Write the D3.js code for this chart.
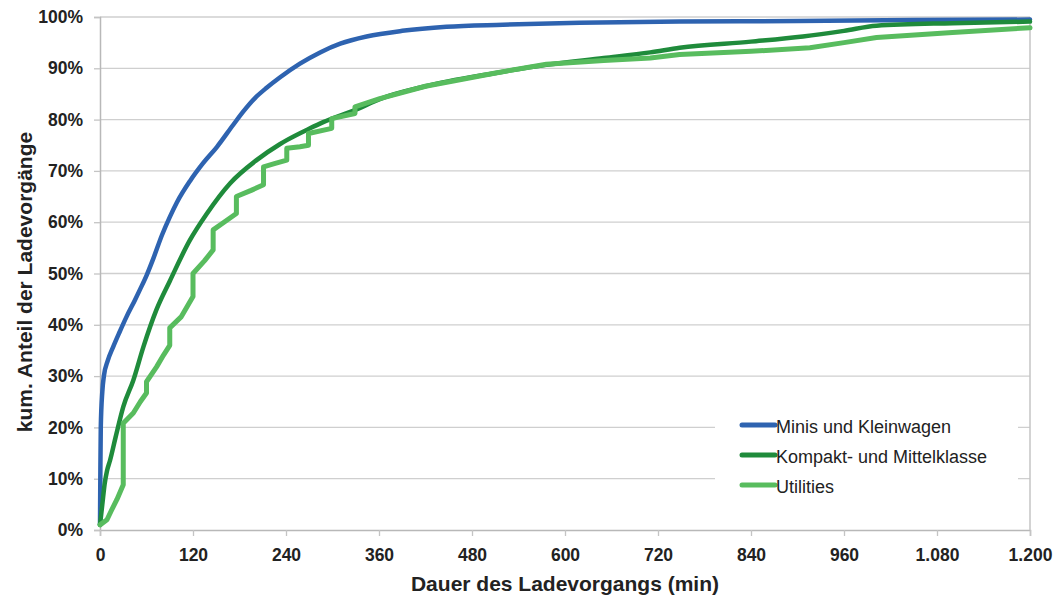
<!DOCTYPE html>
<html>
<head>
<meta charset="utf-8">
<script src="https://cdn.jsdelivr.net/npm/d3@7"></script>
<style>
  html, body { margin: 0; padding: 0; background: #fff; }
  svg { display: block; }
  text { font-family: "Liberation Sans", Arial, Helvetica, sans-serif; fill: #222; }
</style>
</head>
<body>
<svg id="chart" width="1054" height="599"></svg>
<script>
// ---- data (minutes, cumulative percent) ----
const seriesNames = ["Minis und Kleinwagen", "Kompakt- und Mittelklasse", "Utilities"];
const seriesColors = ["#2e63b0", "#1f8b3b", "#58bc5e"];

const minisX = [0, 0.4, 1, 3, 5, 10, 17, 25, 34, 45, 52, 60, 69, 80, 90, 99, 116, 133, 151, 172, 185, 200, 215, 232, 258, 284, 310, 344, 390, 447, 520, 619, 748, 900, 1050, 1200];
const minisY = [1, 10, 20, 27, 30, 33, 35.7, 38.5, 41.5, 44.8, 47, 49.6, 53, 57.5, 61, 63.8, 68, 71.5, 74.7, 79, 81.6, 84.2, 86.2, 88.2, 90.9, 93.1, 94.8, 96.2, 97.3, 98.1, 98.5, 98.9, 99.1, 99.2, 99.4, 99.5];

const kompaktX = [0, 3, 6, 9, 13, 20, 30, 43, 56, 73, 90, 116, 138, 168, 202, 232, 241, 271, 288, 331, 361, 420, 507, 576, 650, 710, 748, 840, 907, 960, 1002, 1100, 1200];
const kompaktY = [1, 5, 9, 11.5, 13.6, 18, 24, 29.2, 35.7, 43, 48.5, 56.5, 61.7, 67.6, 72.1, 75.2, 76, 78.3, 79.5, 82, 84, 86.5, 89, 90.7, 92, 93.1, 94, 95.2, 96.2, 97.3, 98.3, 98.8, 99.1];

const utilX = [0, 9, 15, 22, 30, 30, 43, 52, 60, 60, 73, 82, 90, 90, 105, 120, 120, 135, 146, 146, 160, 176, 176, 195, 211, 211, 225, 241, 241, 258, 269, 269, 299, 299, 329, 329, 361, 420, 507, 576, 650, 710, 748, 840, 916, 960, 1002, 1100, 1200];
const utilY = [1, 2, 3.9, 6, 8.8, 20.8, 22.8, 25, 26.7, 28.9, 31.8, 34.1, 36, 39.4, 41.6, 45.5, 50, 52.5, 54.6, 58.5, 60, 61.7, 65, 66.2, 67.3, 70.8, 71.4, 72.1, 74.4, 74.7, 75, 77.3, 78.3, 80.2, 81.2, 82.5, 84.1, 86.5, 89, 90.8, 91.5, 92, 92.7, 93.3, 94, 95, 96, 97, 97.9];

const xTicks = [0, 120, 240, 360, 480, 600, 720, 840, 960, 1080, 1200];
const yTicks = [0, 10, 20, 30, 40, 50, 60, 70, 80, 90, 100];

const xTitle = "Dauer des Ladevorgangs (min)";
const yTitle = "kum. Anteil der Ladevorgänge";

// ---- layout ----
const svg = d3.select("#chart");
const pL = 100, pR = 1030, pT = 17, pB = 530;

const x = d3.scaleLinear().domain([0, 1200]).range([pL, pR]);
const y = d3.scaleLinear().domain([0, 100]).range([pB, pT]);

const de = d3.formatLocale({ decimal: ",", thousands: ".", grouping: [3], currency: ["", " €"] });
const fmtX = de.format(",d");
const fmtY = d => d + "%";

// grid lines
svg.append("g").selectAll("line").data(yTicks.filter(d => d > 0)).join("line")
  .attr("x1", pL).attr("x2", pR)
  .attr("y1", d => y(d)).attr("y2", d => y(d))
  .attr("stroke", "#cfcfcf").attr("stroke-width", 1.3);

// y axis
const yAxis = svg.append("g").attr("transform", `translate(${pL},0)`)
  .call(d3.axisLeft(y).tickValues(yTicks).tickFormat(fmtY).tickSize(6).tickPadding(11));
yAxis.select(".domain").attr("stroke", "#b8b8b8").attr("stroke-width", 1.5);
yAxis.selectAll(".tick line").attr("stroke", "#c4c4c4").attr("stroke-width", 1.3);
yAxis.selectAll(".tick text")
  .style("font-family", '"Liberation Sans", Arial, sans-serif')
  .style("font-size", "17.5px").style("font-weight", "bold").attr("fill", "#222");

// x axis
const xAxis = svg.append("g").attr("transform", `translate(0,${pB})`)
  .call(d3.axisBottom(x).tickValues(xTicks).tickFormat(fmtX).tickSize(6).tickPadding(13));
xAxis.select(".domain").attr("stroke", "#b8b8b8").attr("stroke-width", 1.5);
xAxis.selectAll(".tick line").attr("stroke", "#c4c4c4").attr("stroke-width", 1.3);
xAxis.selectAll(".tick text")
  .style("font-family", '"Liberation Sans", Arial, sans-serif')
  .style("font-size", "17.5px").style("font-weight", "bold").attr("fill", "#222");

// right border
svg.append("line").attr("x1", pR).attr("x2", pR).attr("y1", pT).attr("y2", pB)
  .attr("stroke", "#c4c4c4").attr("stroke-width", 1.5);

// series lines
const series = [
  { name: seriesNames[0], xs: minisX, ys: minisY, color: seriesColors[0], w: 4.5, curve: d3.curveMonotoneX },
  { name: seriesNames[1], xs: kompaktX, ys: kompaktY, color: seriesColors[1], w: 4.5, curve: d3.curveMonotoneX },
  { name: seriesNames[2], xs: utilX, ys: utilY, color: seriesColors[2], w: 5, curve: d3.curveLinear }
];
svg.append("g").selectAll("path").data(series).join("path")
  .attr("d", s => d3.line().curve(s.curve).x(d => x(d[0])).y(d => y(d[1]))(s.xs.map((v, i) => [v, s.ys[i]])))
  .attr("fill", "none")
  .attr("stroke", s => s.color)
  .attr("stroke-width", s => s.w)
  .attr("stroke-linejoin", "round")
  .attr("stroke-linecap", "round");

// legend
const lg = svg.append("g");
lg.append("rect").attr("x", 715).attr("y", 398).attr("width", 303).attr("height", 114).attr("fill", "#fff");
const rows = lg.selectAll("g.row").data(series).join("g").attr("class", "row")
  .attr("transform", (d, i) => `translate(0,${425 + i * 30})`);
rows.append("line").attr("x1", 742).attr("x2", 775).attr("y1", 0).attr("y2", 0)
  .attr("stroke", d => d.color).attr("stroke-width", 5).attr("stroke-linecap", "round");
rows.append("text").attr("x", 776).attr("y", 8)
  .style("font-size", "18px").text(d => d.name);

// axis titles
svg.append("text").attr("x", (pL + pR) / 2).attr("y", 591)
  .attr("text-anchor", "middle").style("font-size", "21px").style("font-weight", "bold")
  .text(xTitle);
svg.append("text").attr("transform", "translate(32,282) rotate(-90)")
  .attr("text-anchor", "middle").style("font-size", "21px").style("font-weight", "bold")
  .text(yTitle);
</script>
</body>
</html>
